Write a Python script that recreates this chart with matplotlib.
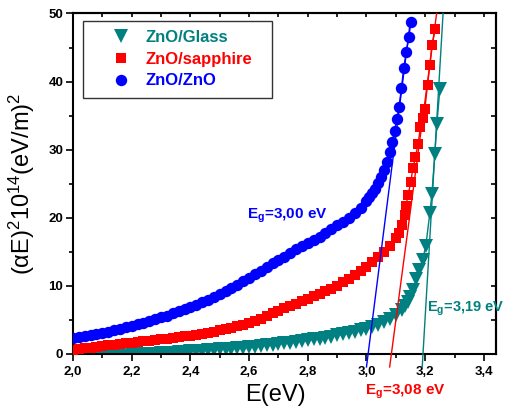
import matplotlib
matplotlib.use("Agg")
import matplotlib.pyplot as plt
from matplotlib.ticker import MultipleLocator, FixedLocator

plt.rcParams['font.family'] = ['Liberation Sans', 'DejaVu Sans']
plt.rcParams['mathtext.fontset'] = 'custom'
plt.rcParams['mathtext.rm'] = 'Liberation Sans'
plt.rcParams['mathtext.it'] = 'Liberation Sans:italic'
plt.rcParams['mathtext.bf'] = 'Liberation Sans:bold'

# ---------------- data ----------------
series_names = ["ZnO/Glass", "ZnO/sapphire", "ZnO/ZnO"]

# ZnO/Glass
glass_E = [2.00, 2.02, 2.04, 2.06, 2.08, 2.10, 2.12, 2.14, 2.16, 2.18, 2.20, 2.22, 2.24, 2.26, 2.28,
           2.30, 2.32, 2.34, 2.36, 2.38, 2.40, 2.42, 2.44, 2.46, 2.48, 2.50, 2.52, 2.54, 2.56, 2.58,
           2.60, 2.62, 2.64, 2.66, 2.68, 2.70, 2.72, 2.74, 2.76, 2.78, 2.80, 2.82, 2.84, 2.86, 2.88,
           2.90, 2.92, 2.94, 2.96, 2.98, 3.00, 3.02, 3.04, 3.06, 3.08, 3.10, 3.12, 3.13, 3.14, 3.15,
           3.16, 3.17, 3.179, 3.191, 3.202, 3.216, 3.223, 3.233, 3.240, 3.250]
glass_y = [-1.0, -0.9, -0.85, -0.8, -0.7, -0.6, -0.5, -0.45, -0.35, -0.3, -0.2, -0.15, -0.05, 0.0, 0.05,
           0.1, 0.15, 0.2, 0.3, 0.35, 0.4, 0.45, 0.5, 0.6, 0.65, 0.7, 0.75, 0.8, 0.9, 0.95,
           1.0, 1.1, 1.15, 1.25, 1.35, 1.45, 1.55, 1.65, 1.75, 1.9, 2.0, 2.15, 2.25, 2.4, 2.55,
           2.75, 2.9, 3.05, 3.25, 3.45, 3.7, 4.0, 4.3, 4.7, 5.1, 5.7, 6.5, 7.0, 7.6, 8.4,
           9.4, 11.0, 12.4, 13.8, 15.8, 20.7, 23.5, 29.4, 33.8, 38.9]

# ZnO/sapphire
sapph_E = [2.00, 2.02, 2.04, 2.06, 2.08, 2.10, 2.12, 2.14, 2.16, 2.18, 2.20, 2.22, 2.24, 2.26, 2.28,
           2.30, 2.32, 2.34, 2.36, 2.38, 2.40, 2.42, 2.44, 2.46, 2.48, 2.50, 2.52, 2.54, 2.56, 2.58,
           2.60, 2.62, 2.64, 2.66, 2.68, 2.70, 2.72, 2.74, 2.76, 2.78, 2.80, 2.82, 2.84, 2.86, 2.88,
           2.90, 2.92, 2.94, 2.96, 2.98, 3.00, 3.02, 3.04, 3.06, 3.08, 3.10, 3.11, 3.12, 3.13, 3.135,
           3.142, 3.151, 3.158, 3.167, 3.176, 3.184, 3.192, 3.199, 3.208, 3.216, 3.223, 3.235]
sapph_y = [0.65, 0.75, 0.85, 0.95, 1.05, 1.15, 1.25, 1.35, 1.45, 1.55, 1.65, 1.75, 1.85, 1.95, 2.05,
           2.15, 2.25, 2.4, 2.5, 2.6, 2.7, 2.85, 3.0, 3.15, 3.3, 3.45, 3.65, 3.85, 4.05, 4.25,
           4.5, 4.85, 5.2, 5.55, 5.95, 6.35, 6.7, 7.05, 7.4, 7.75, 8.1, 8.45, 8.8, 9.2, 9.6,
           10.0, 10.5, 11.0, 11.6, 12.2, 12.8, 13.5, 14.2, 15.0, 15.9, 17.0, 17.8, 18.9, 20.4, 21.8,
           23.4, 25.2, 27.3, 28.9, 30.9, 33.3, 34.6, 36.0, 39.5, 42.4, 45.4, 47.7]

# ZnO/ZnO
zno_E = [2.00, 2.02, 2.04, 2.06, 2.08, 2.10, 2.12, 2.14, 2.16, 2.18, 2.20, 2.22, 2.24, 2.26, 2.28,
         2.30, 2.32, 2.34, 2.36, 2.38, 2.40, 2.42, 2.44, 2.46, 2.48, 2.50, 2.52, 2.54, 2.56, 2.58,
         2.60, 2.62, 2.64, 2.66, 2.68, 2.70, 2.72, 2.74, 2.76, 2.78, 2.80, 2.82, 2.84, 2.86, 2.88,
         2.90, 2.92, 2.94, 2.96, 2.98, 3.00, 3.01, 3.02, 3.03, 3.04, 3.05, 3.06, 3.07, 3.08,
         3.088, 3.096, 3.104, 3.111, 3.119, 3.127, 3.136, 3.145, 3.151]
zno_y = [2.35, 2.5, 2.65, 2.8, 2.95, 3.15, 3.3, 3.5, 3.7, 3.9, 4.1, 4.35, 4.6, 4.85, 5.1,
         5.4, 5.65, 5.95, 6.25, 6.55, 6.9, 7.25, 7.6, 7.95, 8.35, 8.8, 9.2, 9.65, 10.1, 10.65,
         11.2, 11.7, 12.2, 12.75, 13.3, 13.8, 14.3, 14.85, 15.35, 15.85, 16.3, 16.75, 17.25, 17.75, 18.3,
         18.9, 19.45, 20.0, 20.7, 21.5, 22.4, 23.0, 23.6, 24.3, 25.1, 26.0, 27.0, 28.2, 29.6,
         31.2, 32.8, 34.5, 36.3, 39.0, 42.0, 44.4, 46.6, 48.8]

# linear fits (E, value at the two ends)
fit_glass_E = [3.190, 3.261]
fit_glass_y = [-1.9, 50.0]
fit_sapph_E = [3.079, 3.239]
fit_sapph_y = [-1.9, 50.0]
fit_zno_E = [3.000, 3.150]
fit_zno_y = [-1.9, 49.0]

gap_labels = ["3,19", "3,08", "3,00"]

x_ticks = [2.0, 2.2, 2.4, 2.6, 2.8, 3.0, 3.2, 3.4]
x_ticklabels = ["2,0", "2,2", "2,4", "2,6", "2,8", "3,0", "3,2", "3,4"]
y_ticks = [0, 10, 20, 30, 40, 50]
y_ticklabels = ["0", "10", "20", "30", "40", "50"]

# ---------------- styling ----------------
c_glass = "#008080"
c_sapph = "#ff0000"
c_zno = "#0000ff"

fig = plt.figure(figsize=(5.07, 4.15), dpi=100)
ax = fig.add_axes([0.144, 0.147, 0.8335, 0.8205])

ax.plot(glass_E, glass_y, color=c_glass, marker='v', markersize=9.5, lw=1.0,
        markeredgewidth=0, linestyle='-', zorder=2, label=series_names[0])
ax.plot(sapph_E, sapph_y, color=c_sapph, marker='s', markersize=7.2, lw=1.0,
        markeredgewidth=0, linestyle='-', zorder=3, label=series_names[1])
ax.plot(fit_glass_E, fit_glass_y, color=c_glass, lw=1.0, zorder=4, clip_on=False)
ax.plot(fit_sapph_E, fit_sapph_y, color=c_sapph, lw=1.0, zorder=4, clip_on=False)
ax.plot(fit_zno_E, fit_zno_y, color=c_zno, lw=1.0, zorder=4, clip_on=False)
ax.plot(zno_E, zno_y, color=c_zno, marker='o', markersize=8.2, lw=1.0,
        markeredgewidth=0, linestyle='-', zorder=5, label=series_names[2])

ax.set_xlim(2.0, 3.44)
ax.set_ylim(0, 50)

for s in ax.spines.values():
    s.set_linewidth(1.5)

ax.xaxis.set_major_locator(FixedLocator(x_ticks))
ax.set_xticklabels(x_ticklabels)
ax.xaxis.set_minor_locator(MultipleLocator(0.1))
ax.yaxis.set_major_locator(FixedLocator(y_ticks))
ax.set_yticklabels(y_ticklabels)
ax.yaxis.set_minor_locator(MultipleLocator(5))

ax.tick_params(which='major', direction='out', length=5, width=1.2, labelsize=9.5, pad=2)
ax.tick_params(which='minor', direction='out', length=3, width=1.2)
ax.tick_params(axis='x', which='major', pad=3.5)
for lab in ax.get_xticklabels() + ax.get_yticklabels():
    lab.set_fontweight('bold')

top = ax.secondary_xaxis('top')
top.xaxis.set_major_locator(FixedLocator(x_ticks))
top.xaxis.set_minor_locator(MultipleLocator(0.1))
top.tick_params(which='both', direction='in', length=3, width=1.2, labeltop=False)
top.spines['top'].set_linewidth(1.5)
right = ax.secondary_yaxis('right')
right.yaxis.set_major_locator(FixedLocator(y_ticks))
right.yaxis.set_minor_locator(MultipleLocator(5))
right.tick_params(which='both', direction='in', length=3.5, width=1.2, labelright=False)
right.spines['right'].set_linewidth(1.5)

ax.set_xlabel("E(eV)", fontsize=17)
ax.xaxis.set_label_coords(0.478, -0.088)
ax.set_ylabel(r"(αE)$^{2}$10$^{14}$(eV/m)$^{2}$", fontsize=17)
ax.yaxis.set_label_coords(-0.085, 0.5)

leg = ax.legend(loc='upper left', bbox_to_anchor=(0.0237, 0.755, 0.447, 0.223),
                mode='expand', borderaxespad=0,
                prop={'weight': 'bold', 'size': 12}, numpoints=1,
                handlelength=3.4, handletextpad=-0.2, borderpad=0.55, labelspacing=0.4,
                fancybox=False, framealpha=1, edgecolor='#333333')
leg.get_frame().set_linewidth(1.0)
for txt, col in zip(leg.get_texts(), [c_glass, c_sapph, c_zno]):
    txt.set_color(col)
for h in leg.legend_handles:
    h.set_linestyle('None')

ax.text(2.592, 19.85, r"E$_\mathbf{g}$=" + gap_labels[2] + " eV", color=c_zno,
        fontsize=11, fontweight='bold', va='baseline', ha='left')
ax.text(2.994, -6.03, r"E$_\mathbf{g}$=" + gap_labels[1] + " eV", color=c_sapph,
        fontsize=11, fontweight='bold', va='baseline', ha='left', clip_on=False)
ax.text(3.205, 6.2, r"E$_\mathbf{g}$=" + gap_labels[0] + " eV", color=c_glass,
        fontsize=10.5, fontweight='bold', va='baseline', ha='left', clip_on=False)

fig.savefig("out.png", dpi=100)
